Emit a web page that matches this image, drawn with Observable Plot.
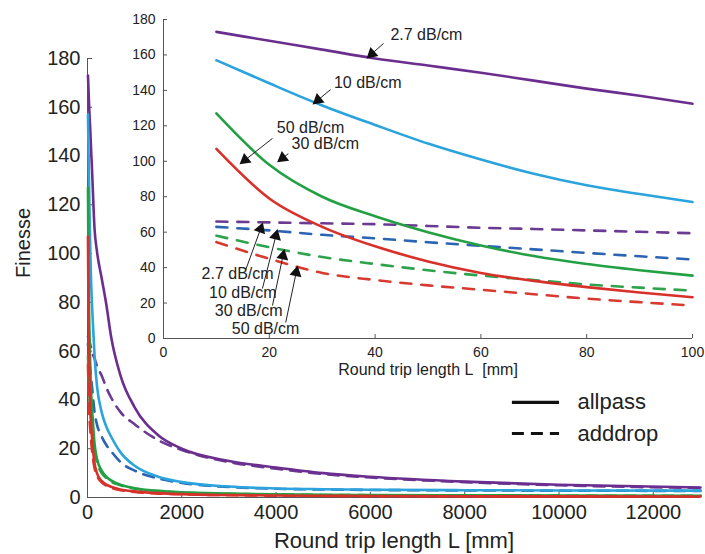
<!DOCTYPE html>
<html><head><meta charset="utf-8">
<script src="https://cdn.jsdelivr.net/npm/d3@7"></script>
<script src="https://cdn.jsdelivr.net/npm/@observablehq/plot@0.6"></script>
<style>
body{margin:0;background:#fff}
#chart{position:relative;width:705px;height:554px}
#chart svg{position:absolute;left:0;top:0}
</style></head><body><div id="chart"></div>
<script>
// ---- data (round trip length L in mm, finesse) ----
const L = [10,20,30,40,50,60,70,80,90,100,150,200,300,400,500,700,1000,1500,2000,3000,4000,5000,6000,8000,10000,13000];
const allpass27 = [173,168,163,158,154,150,145.5,141,137,132.5,110,101,90,79,66,50,37,25.5,20,15,12.3,10,8.5,6.5,5.2,4.1];
const adddrop27 = [66,65.5,65,64.5,63.5,62.5,61.8,61,60.2,59.4,57,54,50,45,41,35,30,23.5,19.5,14.5,11.8,9.6,8.2,6.3,5.0,3.9];
const allpass10 = [157,144,131.5,120.5,110,101,93,86.5,81.5,77,58,46,35,29,25,18.5,13,8.5,6.3,4.5,3.7,3.4,3.2,3.0,2.9,2.8];
const adddrop10 = [63,61,58.5,56.5,54.3,52.3,50.3,48.3,46.4,44.6,35,30,25,21.5,19,14.5,11,7.8,6,4.3,3.6,3.3,3.1,2.9,2.8,2.7];
const allpass30 = [127,98,80,69,60,52.5,46.5,42,38.5,35.5,22,16,11,8.5,7,5.2,3.8,2.7,2.1,1.6,1.3,1.1,1.0,0.9,0.8,0.7];
const adddrop30 = [58,51.5,46,42,38.5,35.5,33,30.5,28.7,27,19,14.5,10,8,6.5,5,3.6,2.6,2.0,1.5,1.25,1.05,0.95,0.85,0.75,0.65];
const allpass50 = [107,79,63,52,43.5,37,32.5,29,26,23.3,14,10,6.8,5.3,4.4,3.3,2.5,1.8,1.4,1.0,0.8,0.7,0.6,0.5,0.45,0.4];
const adddrop50 = [54.4,45,37,33,30,27.5,25,22.5,20.5,18.6,12,9,6.2,4.9,4,3.0,2.3,1.6,1.3,0.95,0.75,0.65,0.55,0.48,0.42,0.38];

const mainXTicks = [0,2000,4000,6000,8000,10000,12000];
const mainYTicks = [0,20,40,60,80,100,120,140,160,180];
const insetXTicks = [0,20,40,60,80,100];
const insetYTicks = [0,20,40,60,80,100,120,140,160,180];
const xLabel = "Round trip length L [mm]";
const insetXLabel = "Round trip length L\u00a0 [mm]";
const yLabel = "Finesse";
const legendLabels = ["allpass", "adddrop"];

// annotations in inset data coordinates
const annotLabels = [
  {text:"2.7 dB/cm", x:49.7, y:171.6},
  {text:"10 dB/cm", x:38.6, y:144.5},
  {text:"50 dB/cm", x:27.8, y:119},
  {text:"30 dB/cm", x:30.6, y:110},
  {text:"2.7 dB/cm", x:14, y:36.7},
  {text:"10 dB/cm", x:15, y:26},
  {text:"30 dB/cm", x:16.1, y:15.8},
  {text:"50 dB/cm", x:19.3, y:5.6}
];
const annotArrows = [
  {x1:41.6, y1:166.5, x2:38.6, y2:158.6},
  {x1:31.6, y1:140.5, x2:28.4, y2:132.6},
  {x1:20.6, y1:112.9, x2:14.6, y2:98.8},
  {x1:23.6, y1:104.3, x2:21.7, y2:100},
  {x1:15.5, y1:38.4, x2:18.7, y2:64.7},
  {x1:18.7, y1:28.2, x2:21.5, y2:60.9},
  {x1:20.6, y1:18.6, x2:22.8, y2:49.7},
  {x1:23.1, y1:9.0, x2:25.3, y2:40.3}
];

// ---- styling ----
const series = [
  {type:"adddrop", values:adddrop27, color:"#6b3a92"},
  {type:"adddrop", values:adddrop10, color:"#2a64b2"},
  {type:"adddrop", values:adddrop30, color:"#2ea24c"},
  {type:"adddrop", values:adddrop50, color:"#d83a30"},
  {type:"allpass", values:allpass27, color:"#6b2e8e"},
  {type:"allpass", values:allpass10, color:"#2ba3dc"},
  {type:"allpass", values:allpass30, color:"#23a043"},
  {type:"allpass", values:allpass50, color:"#d8312a"}
];
const W = 705, H = 554;
const font = "'Liberation Sans', Arial, sans-serif";
const axisColor = "#555";
const textColor = "#222";
const fmt = d => String(d);

// main plot geometry
const M = {left:87, right:5, top:58, bottom:57};
const mainW = W - M.left - M.right, mainH = H - M.top - M.bottom;
// inset geometry
const I = {left:163, right:13, top:19, bottom:216};
const insW = W - I.left - I.right, insH = H - I.top - I.bottom;

function lineMarks(filter, dash, sw) {
  return series.map(s => {
    const rows = L.map((l, i) => ({L: l, F: s.values[i]})).filter(filter);
    return Plot.line(rows, {x:"L", y:"F", stroke:s.color, strokeWidth:sw, curve:"monotone-x",
      strokeDasharray: s.type === "adddrop" ? dash : null});
  });
}

// legend anchor (main-plot data coordinates)
const legX1 = 9000, legX2 = 10000, legTextX = 10390, legY = [39, 26.2];

const main = Plot.plot({
  width: W, height: H,
  marginLeft: M.left, marginRight: M.right, marginTop: M.top, marginBottom: M.bottom,
  x: {domain:[0,13000]},
  y: {domain:[0,180]},
  style: {fontFamily: font, fontSize: "20px", color: textColor, background: "white"},
  marks: [
    Plot.axisX(mainXTicks, {tickSize:0, tickPadding:7, label:null, fill:textColor, tickFormat:fmt}),
    Plot.axisY(mainYTicks, {tickSize:0, tickPadding:7, label:null, fill:textColor, tickFormat:fmt}),
    Plot.tickX(mainXTicks, {x:d=>d, insetTop: mainH - 5, stroke:axisColor}),
    Plot.tickY(mainYTicks, {y:d=>d, insetRight: mainW - 5, stroke:axisColor}),
    Plot.ruleX([0], {stroke:axisColor}),
    Plot.ruleY([0], {stroke:axisColor}),
    ...lineMarks(() => true, "11,8", 2.6),
    // legend
    Plot.link([legendLabels[0]], {x1: legX1, x2: legX2, y1: legY[0], y2: legY[0], stroke: "#111", strokeWidth: 3.2}),
    Plot.link([legendLabels[1]], {x1: legX1, x2: legX2, y1: legY[1], y2: legY[1], stroke: "#111", strokeWidth: 3, strokeDasharray: "12,7"}),
    Plot.text(legendLabels, {x: legTextX, y: (d,i) => legY[i], text: d => d, textAnchor:"start", fontSize:22, fill:textColor}),
    Plot.text([xLabel], {frameAnchor:"bottom", dy:43, lineAnchor:"middle", fontSize:22, fill:textColor}),
    Plot.text([yLabel], {frameAnchor:"left", dx:-64, rotate:-90, fontSize:20, fill:textColor})
  ]
});

const kx = insW / 100, ky = insH / 180;
const heads = annotArrows.map(a => {
  const dx = (a.x2 - a.x1) * kx, dy = -(a.y2 - a.y1) * ky;
  const len = Math.hypot(dx, dy), ux = dx / len, uy = dy / len, off = 5.5;
  return {x: a.x2 - ux * off / kx, y: a.y2 + uy * off / ky, rot: Math.atan2(dx, -dy) * 180 / Math.PI};
});

const inset = Plot.plot({
  width: W, height: H,
  marginLeft: I.left, marginRight: I.right, marginTop: I.top, marginBottom: I.bottom,
  x: {domain:[0,100]},
  y: {domain:[0,180]},
  style: {fontFamily: font, fontSize: "14px", color: textColor, background: "transparent"},
  marks: [
    Plot.axisX(insetXTicks, {tickSize:0, tickPadding:9, label:null, fill:textColor, tickFormat:fmt}),
    Plot.axisY(insetYTicks, {tickSize:0, tickPadding:8, label:null, fill:textColor, tickFormat:fmt}),
    Plot.tickX(insetXTicks, {x:d=>d, insetTop: insH - 4, stroke:axisColor}),
    Plot.tickY(insetYTicks, {y:d=>d, insetRight: insW - 4, stroke:axisColor}),
    Plot.ruleX([0], {stroke:axisColor}),
    Plot.ruleY([0], {stroke:axisColor}),
    ...lineMarks(d => d.L <= 100, "11,10", 2.6),
    Plot.link(annotArrows, {x1:"x1", y1:"y1", x2:"x2", y2:"y2", stroke:"#222", strokeWidth:1}),
    Plot.dot(heads, {x:"x", y:"y", rotate:"rot", symbol:"triangle", r:4.5, fill:"#111", stroke:"none"}),
    Plot.text(annotLabels, {x:"x", y:"y", text:"text", fontSize:16, fill:textColor}),
    Plot.text([insetXLabel], {frameAnchor:"bottom", dy:31, lineAnchor:"middle", fontSize:16, fill:textColor})
  ]
});

const chart = document.getElementById("chart");
chart.appendChild(main);
chart.appendChild(inset);
</script></body></html>
